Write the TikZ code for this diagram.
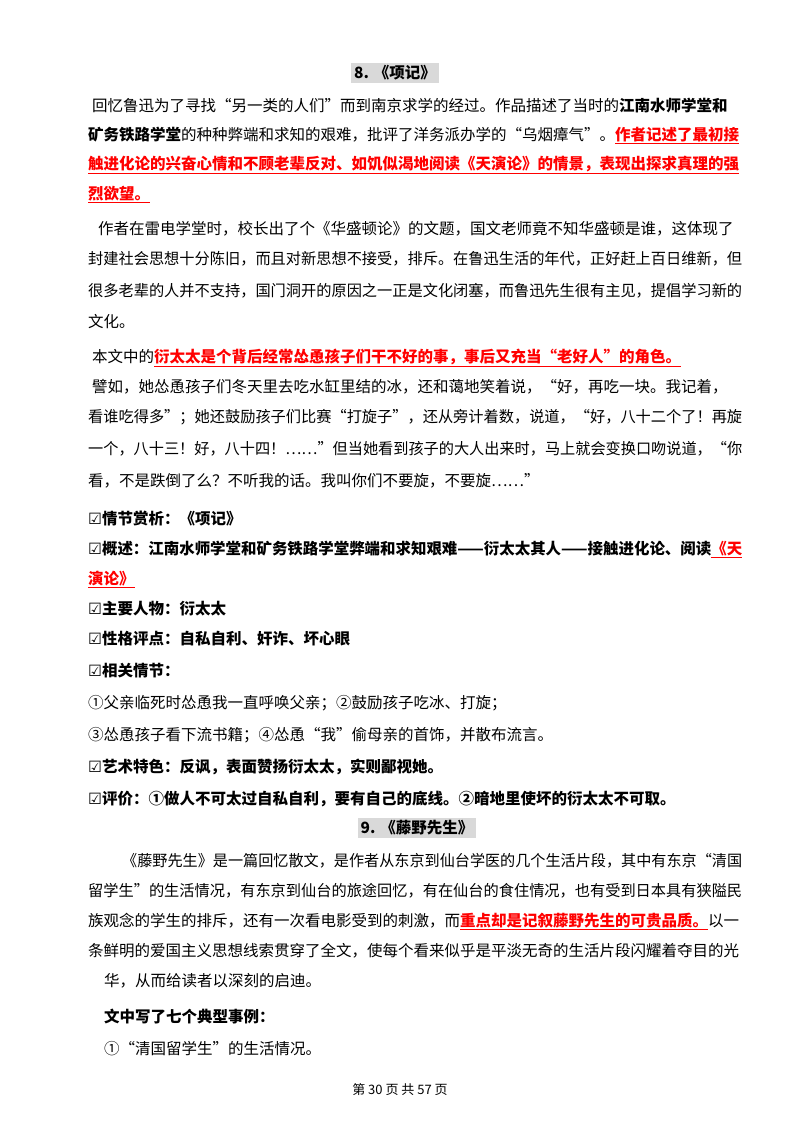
\documentclass[tikz,border=0pt]{standalone}
\usepackage{fontspec}
\setmainfont{Noto Sans CJK SC}
\newfontfamily\djv{DejaVu Sans}
\XeTeXlinebreaklocale "zh"
\XeTeXlinebreakskip=0pt plus 2pt
\newcommand{\rl}[1]{{\color{red}\bfseries\underline{#1}}}
\newcommand{\ck}{{\djv\bfseries ☑}}
\newsavebox{\lnbox}
\newlength{\lnw}
\newcommand{\fitline}[2]{\setlength{\lnw}{\dimexpr742pt-#1pt\relax}\sbox{\lnbox}{#2}%
  \ifdim\wd\lnbox>\lnw\resizebox{\lnw}{\height}{\usebox{\lnbox}}\else\makebox[\lnw][s]{#2}\fi}
\begin{document}
\begin{tikzpicture}[x=1pt,y=-1pt,
  ln/.style={anchor=base west,inner sep=0pt,font=\fontsize{15.5pt}{18pt}\selectfont},
  ttl/.style={fill=black!15,inner sep=3pt,font=\fontsize{15.5pt}{18pt}\selectfont\bfseries}]
\useasboundingbox (0,0) rectangle (800,1132);
\newcommand{\J}[4]{\node[ln] (#1) at (#2,#3) {\fitline{#2}{#4}};}
\newcommand{\N}[4]{\node[ln] (#1) at (#2,#3) {#4};}
\node[ttl] (t8) at (395,73) {8. 《项记》};
\J{a1}{92}{111}{回忆鲁迅为了寻找“另一类的人们”而到南京求学的经过。作品描述了当时的\textbf{江南水师学堂和}}
\J{a2}{88}{140}{\textbf{矿务铁路学堂}的种种弊端和求知的艰难，批评了洋务派办学的“乌烟瘴气”。\rl{作者记述了最初接}}
\J{a3}{88}{169}{\rl{触进化论的兴奋心情和不顾老辈反对、如饥似渴地阅读《天演论》的情景，表现出探求真理的强}}
\N{a4}{88}{199}{\rl{烈欲望。}}
\J{b1}{98}{234}{作者在雷电学堂时，校长出了个《华盛顿论》的文题，国文老师竟不知华盛顿是谁，这体现了}
\J{b2}{88}{264}{封建社会思想十分陈旧，而且对新思想不接受，排斥。在鲁迅生活的年代，正好赶上百日维新，但}
\J{b3}{88}{296}{很多老辈的人并不支持，国门洞开的原因之一正是文化闭塞，而鲁迅先生很有主见，提倡学习新的}
\N{b4}{88}{327}{文化。}
\N{c1}{92}{362}{本文中的\rl{衍太太是个背后经常怂恿孩子们干不好的事，事后又充当“老好人”的角色。}}
\J{d1}{92}{392}{譬如，她怂恿孩子们冬天里去吃水缸里结的冰，还和蔼地笑着说，“好，再吃一块。我记着，}
\J{d2}{88}{422}{看谁吃得多”；她还鼓励孩子们比赛“打旋子”，还从旁计着数，说道，“好，八十二个了！再旋}
\J{d3}{88}{454}{一个，八十三！好，八十四！……”但当她看到孩子的大人出来时，马上就会变换口吻说道，“你}
\N{d4}{88}{486}{看，不是跌倒了么？不听我的话。我叫你们不要旋，不要旋……”}
\N{e1}{88}{524}{\bfseries\ck 情节赏析：《项记》}
\J{e2}{88}{554}{\bfseries\ck 概述：江南水师学堂和矿务铁路学堂弊端和求知艰难——衍太太其人——接触进化论、阅读\rl{《天}}
\N{e3}{88}{584}{\rl{演论》}}
\N{e4}{88}{614}{\bfseries\ck 主要人物：衍太太}
\N{e5}{88}{644}{\bfseries\ck 性格评点：自私自利、奸诈、坏心眼}
\N{e6}{88}{676}{\bfseries\ck 相关情节：}
\N{e7}{88}{708}{①父亲临死时怂恿我一直呼唤父亲；②鼓励孩子吃冰、打旋；}
\N{e8}{88}{740}{③怂恿孩子看下流书籍；④怂恿“我”偷母亲的首饰，并散布流言。}
\N{e9}{88}{772}{\bfseries\ck 艺术特色：反讽，表面赞扬衍太太，实则鄙视她。}
\N{e10}{88}{804}{\bfseries\ck 评价：①做人不可太过自私自利，要有自己的底线。②暗地里使坏的衍太太不可取。}
\node[ttl] (t9) at (417,828) {9. 《藤野先生》};
\J{f1}{122}{866}{《藤野先生》是一篇回忆散文，是作者从东京到仙台学医的几个生活片段，其中有东京“清国}
\J{f2}{88}{896}{留学生”的生活情况，有东京到仙台的旅途回忆，有在仙台的食住情况，也有受到日本具有狭隘民}
\J{f3}{88}{926}{族观念的学生的排斥，还有一次看电影受到的刺激，而\rl{重点却是记叙藤野先生的可贵品质。}以一}
\J{f4}{88}{956}{条鲜明的爱国主义思想线索贯穿了全文，使每个看来似乎是平淡无奇的生活片段闪耀着夺目的光}
\N{f5}{104}{986}{华，从而给读者以深刻的启迪。}
\N{g1}{104}{1022}{\bfseries 文中写了七个典型事例：}
\N{g2}{104}{1054}{①“清国留学生”的生活情况。}
\node[inner sep=0pt,font=\fontsize{13pt}{15pt}\selectfont] (ft) at (400,1090) {第 30 页 共 57 页};
\end{tikzpicture}
\end{document}
